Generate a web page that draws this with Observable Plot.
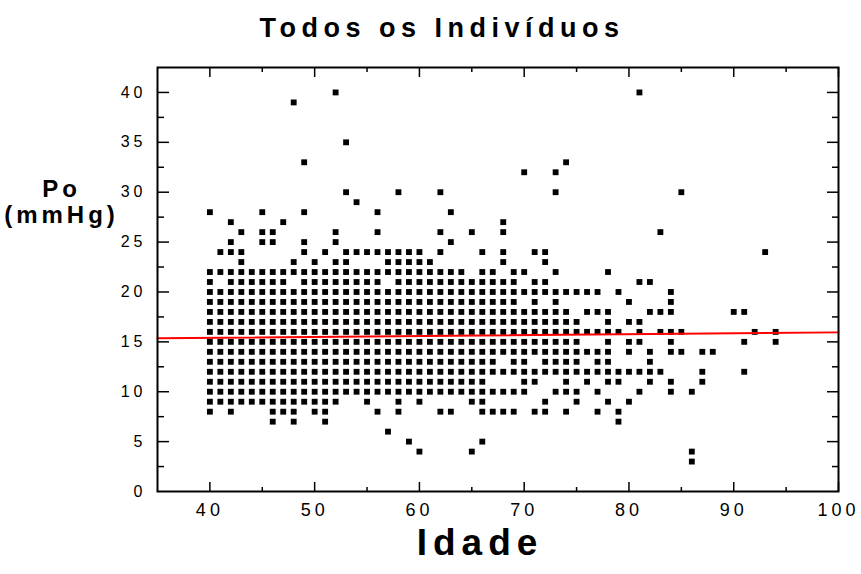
<!DOCTYPE html>
<html>
<head>
<meta charset="utf-8">
<script src="https://cdn.jsdelivr.net/npm/d3@7"></script>
<script src="https://cdn.jsdelivr.net/npm/@observablehq/plot@0.6"></script>
<style>
  html, body { margin: 0; padding: 0; background: #fff; }
  #chart svg { display: block; }
</style>
</head>
<body>
<div id="chart"></div>
<script>
// Ages (Idade) observed at each Po (mmHg) level
const ages_po40 = [52, 81];
const ages_po39 = [48];
const ages_po35 = [53];
const ages_po33 = [49, 74];
const ages_po32 = [70, 73];
const ages_po30 = [53, 58, 62, 73, 85];
const ages_po29 = [54];
const ages_po28 = [40, 45, 49, 56, 63];
const ages_po27 = [42, 47, 68];
const ages_po26 = [43, 45, 46, 52, 56, 62, 65, 68, 83];
const ages_po25 = [42, 45, 46, 49, 52, 63];
const ages_po24 = [41, 42, 43, 49, 51, 53, 54, 55, 56, 57, 58, 59, 60, 62, 66, 68, 71, 72, 93];
const ages_po23 = [43, 48, 50, 52, 53, 57, 58, 59, 60, 61, 68, 72];
const ages_po22 = [40, 41, 42, 43, 44, 45, 46, 47, 48, 49, 50, 51, 52, 53, 54, 55, 56, 57, 58, 59, 60, 61, 62, 63, 64, 66, 67, 69, 70, 73, 78];
const ages_po21 = [40, 42, 43, 44, 45, 46, 47, 49, 50, 51, 52, 53, 54, 55, 56, 58, 59, 60, 61, 62, 63, 64, 65, 66, 67, 68, 69, 71, 72, 81, 82];
const ages_po20 = [40, 41, 42, 43, 44, 45, 46, 47, 48, 49, 50, 51, 52, 53, 54, 55, 56, 57, 58, 59, 60, 61, 62, 63, 64, 65, 66, 67, 68, 69, 70, 71, 72, 73, 74, 75, 76, 77, 79, 84];
const ages_po19 = [40, 41, 42, 43, 44, 45, 46, 47, 48, 49, 50, 51, 52, 53, 54, 55, 56, 57, 58, 59, 60, 61, 62, 63, 64, 65, 66, 67, 68, 69, 71, 73, 80, 84];
const ages_po18 = [40, 41, 42, 43, 44, 45, 46, 47, 48, 49, 50, 51, 52, 53, 54, 55, 56, 57, 58, 59, 60, 61, 62, 63, 64, 65, 66, 67, 68, 69, 70, 71, 72, 73, 74, 76, 77, 78, 82, 83, 84, 90, 91];
const ages_po17 = [40, 41, 42, 43, 44, 45, 46, 47, 48, 49, 50, 51, 52, 53, 54, 55, 56, 57, 58, 59, 60, 61, 62, 63, 64, 65, 66, 67, 68, 69, 70, 71, 72, 73, 74, 75, 78, 80, 81];
const ages_po16 = [40, 41, 42, 43, 44, 45, 46, 47, 48, 49, 50, 51, 52, 53, 54, 55, 56, 57, 58, 59, 60, 61, 62, 63, 64, 65, 66, 67, 68, 69, 70, 71, 72, 73, 74, 75, 76, 77, 78, 79, 81, 83, 84, 85, 92, 94];
const ages_po15 = [40, 41, 42, 43, 44, 45, 46, 47, 48, 49, 50, 51, 52, 53, 54, 55, 56, 57, 58, 59, 60, 61, 62, 63, 64, 65, 66, 67, 68, 69, 70, 71, 72, 73, 74, 75, 78, 80, 81, 84, 91, 94];
const ages_po14 = [40, 41, 42, 43, 44, 45, 46, 47, 48, 49, 50, 51, 52, 53, 54, 55, 56, 57, 58, 59, 60, 61, 62, 63, 64, 65, 66, 67, 68, 69, 70, 71, 72, 73, 74, 75, 76, 77, 78, 80, 82, 84, 85, 87, 88];
const ages_po13 = [40, 41, 42, 43, 44, 45, 46, 47, 48, 49, 50, 51, 52, 53, 54, 55, 56, 57, 58, 59, 60, 61, 62, 63, 64, 65, 66, 67, 69, 70, 72, 73, 74, 75, 77, 78, 82];
const ages_po12 = [40, 41, 42, 43, 44, 45, 46, 47, 48, 49, 50, 51, 52, 53, 54, 55, 56, 57, 58, 59, 60, 61, 62, 63, 64, 65, 66, 67, 68, 69, 70, 71, 72, 73, 74, 75, 76, 77, 78, 79, 80, 81, 82, 83, 87, 91];
const ages_po11 = [40, 41, 42, 43, 44, 45, 46, 47, 48, 49, 50, 51, 52, 53, 54, 55, 56, 57, 58, 59, 60, 61, 62, 63, 64, 65, 66, 70, 71, 74, 76, 78, 79, 82, 84, 87];
const ages_po10 = [40, 41, 42, 43, 44, 45, 46, 47, 48, 49, 50, 51, 52, 53, 54, 55, 56, 57, 58, 59, 60, 61, 62, 63, 64, 65, 66, 67, 68, 69, 70, 73, 74, 75, 77, 81, 84, 86];
const ages_po9 = [40, 41, 42, 43, 44, 45, 46, 47, 48, 49, 50, 51, 52, 55, 58, 60, 65, 66, 72, 75, 78, 80];
const ages_po8 = [40, 42, 46, 47, 48, 50, 51, 56, 58, 62, 63, 66, 67, 68, 69, 71, 72, 74, 77, 79];
const ages_po7 = [46, 48, 51, 79];
const ages_po6 = [57];
const ages_po5 = [59, 66];
const ages_po4 = [60, 65, 86];
const ages_po3 = [86];

const poLevels = [40, 39, 35, 33, 32, 30, 29, 28, 27, 26, 25, 24, 23, 22, 21, 20, 19, 18, 17, 16, 15, 14, 13, 12, 11, 10, 9, 8, 7, 6, 5, 4, 3];
const agesByLevel = [ages_po40, ages_po39, ages_po35, ages_po33, ages_po32, ages_po30, ages_po29, ages_po28, ages_po27, ages_po26, ages_po25, ages_po24, ages_po23, ages_po22, ages_po21, ages_po20, ages_po19, ages_po18, ages_po17, ages_po16, ages_po15, ages_po14, ages_po13, ages_po12, ages_po11, ages_po10, ages_po9, ages_po8, ages_po7, ages_po6, ages_po5, ages_po4, ages_po3];

// Regression line (fitted trend) end points
const fitAge = [35, 100];
const fitPo = [15.35, 15.95];

// Axis ticks and labels
const xMajor = [40, 50, 60, 70, 80, 90, 100];
const xMinor = [45, 55, 65, 75, 85, 95];
const yMajor = [5, 10, 15, 20, 25, 30, 35, 40];
const yMinor = [2.5, 7.5, 12.5, 17.5, 22.5, 27.5, 32.5, 37.5];
const xLabels = [40, 50, 60, 70, 80, 90, 100];
const yLabels = [0, 5, 10, 15, 20, 25, 30, 35, 40];

const titleText = "Todos os Indivíduos";
const xTitle = "Idade";
const yTitle1 = "Po";
const yTitle2 = "(mmHg)";

const points = [];
poLevels.forEach((po, i) => agesByLevel[i].forEach(age => points.push({age, po})));
const fit = fitAge.map((a, i) => ({age: a, po: fitPo[i]}));

const W = 861, H = 574;
const mL = 157, mR = 23, mT = 67, mB = 83;
const fw = W - mL - mR, fh = H - mT - mB;
const font = "'Liberation Sans Narrow', 'Liberation Sans', Arial, sans-serif";

const chart = Plot.plot({
  width: W,
  height: H,
  marginLeft: mL, marginRight: mR, marginTop: mT, marginBottom: mB,
  style: {fontFamily: font, background: "#fff", color: "#000"},
  x: {domain: [35, 100], axis: null},
  y: {domain: [0, 42.5], axis: null},
  marks: [
    Plot.dot(points, {x: "age", y: "po", symbol: "square", r: 3.3, fill: "#000", stroke: "none"}),
    Plot.line(fit, {x: "age", y: "po", stroke: "#ff0000", strokeWidth: 2}),
    Plot.frame({stroke: "#000", strokeWidth: 2}),
    // bottom ticks (inward)
    Plot.ruleX(xMajor, {x: d => d, insetTop: fh - 9, stroke: "#000", strokeWidth: 1.5}),
    Plot.ruleX(xMinor, {x: d => d, insetTop: fh - 4, stroke: "#000", strokeWidth: 1.5}),
    // top ticks (inward)
    Plot.ruleX(xMajor, {x: d => d, insetBottom: fh - 10, stroke: "#000", strokeWidth: 1.5}),
    Plot.ruleX(xMinor, {x: d => d, insetBottom: fh - 5, stroke: "#000", strokeWidth: 1.5}),
    // left ticks (inward)
    Plot.ruleY(yMajor, {y: d => d, insetRight: fw - 12, stroke: "#000", strokeWidth: 1.5}),
    Plot.ruleY(yMinor, {y: d => d, insetRight: fw - 7, stroke: "#000", strokeWidth: 1.5}),
    // right ticks (inward)
    Plot.ruleY(yMajor, {y: d => d, insetLeft: fw - 11, stroke: "#000", strokeWidth: 1.5}),
    Plot.ruleY(yMinor, {y: d => d, insetLeft: fw - 6, stroke: "#000", strokeWidth: 1.5}),
    // tick labels
    Plot.text(xLabels, {x: d => d, frameAnchor: "bottom", dy: 19, lineAnchor: "middle", fontSize: 18, fill: "#000", text: d => String(d)}),
    Plot.text(yLabels, {y: d => d, frameAnchor: "left", dx: -11, textAnchor: "end", lineAnchor: "middle", fontSize: 16, fill: "#000", text: d => String(d)}),
    // titles
    Plot.text([titleText], {frameAnchor: "top", dx: -56, dy: -39, lineAnchor: "middle", fontSize: 27, fontWeight: "bold", fill: "#000"}),
    Plot.text([xTitle], {frameAnchor: "bottom", dx: -18, dy: 52, lineAnchor: "middle", fontSize: 37, fontWeight: "bold", fill: "#000"}),
    Plot.text([yTitle1], {frameAnchor: "top-left", dx: -96, dy: 122, textAnchor: "middle", lineAnchor: "middle", fontSize: 24, fontWeight: "bold", fill: "#000"}),
    Plot.text([yTitle2], {frameAnchor: "top-left", dx: -96, dy: 148, textAnchor: "middle", lineAnchor: "middle", fontSize: 24, fontWeight: "bold", fill: "#000"})
  ]
});

document.getElementById("chart").appendChild(chart);

// letter spacing like the original typography
const spacing = new Map([[titleText, "5.5px"], [xTitle, "6px"], [yTitle1, "4px"], [yTitle2, "4px"]]);
d3.select(chart).selectAll("text").each(function() {
  const t = this.textContent;
  d3.select(this).attr("letter-spacing", spacing.has(t) ? spacing.get(t) : "4px");
});
</script>
</body>
</html>
